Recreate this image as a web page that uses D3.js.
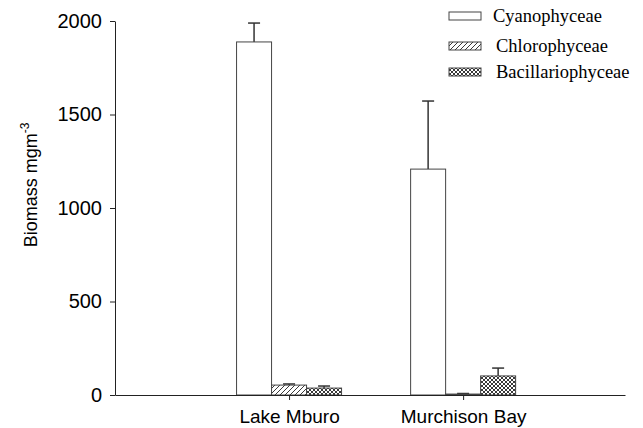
<!DOCTYPE html>
<html><head><meta charset="utf-8">
<script src="https://cdn.jsdelivr.net/npm/d3@7"></script>
<style>body{margin:0;background:#fff}</style>
</head><body>
<svg id="c" width="643" height="428"></svg>
<script>
const categories = ["Lake Mburo", "Murchison Bay"];
const seriesNames = ["Cyanophyceae", "Chlorophyceae", "Bacillariophyceae"];
const cyano = [1888, 1208];
const cyanoErr = [101, 364];
const chloro = [53, 5];
const chloroErr = [6, 3];
const bacil = [37, 102];
const bacilErr = [11, 42];
const yTicks = [0, 500, 1000, 1500, 2000];

const svg = d3.select("#c");
const defs = svg.append("defs");
const p1 = defs.append("pattern").attr("id","diag").attr("patternUnits","userSpaceOnUse").attr("width",5).attr("height",5);
p1.append("rect").attr("width",5).attr("height",5).attr("fill","#fff");
p1.append("path").attr("d","M-1,6 L6,-1 M-1,1 L1,-1 M4,6 L6,4").attr("stroke","#222").attr("stroke-width",0.9);
const p2 = defs.append("pattern").attr("id","cross").attr("patternUnits","userSpaceOnUse").attr("width",4).attr("height",4);
p2.append("rect").attr("width",4).attr("height",4).attr("fill","#fff");
p2.append("path").attr("d","M0,0 L4,4 M4,0 L0,4").attr("stroke","#222").attr("stroke-width",0.9);

const y = d3.scaleLinear().domain([0,2000]).range([395,21]);
const x = d3.scaleLinear().domain([0,2.93]).range([115,625]);
const barW = 35;
const fills = ["#fff","url(#diag)","url(#cross)"];
const vals = [cyano, chloro, bacil];
const errs = [cyanoErr, chloroErr, bacilErr];
const sans = "Arial, Liberation Sans, sans-serif";

// Axes
const ya = svg.append("g").attr("transform","translate(115,0)")
  .call(d3.axisLeft(y).tickValues(yTicks).tickFormat(d3.format("d")).tickSize(5).tickSizeOuter(0).tickPadding(8));
ya.select(".domain").attr("stroke","#222");
ya.selectAll("line").attr("stroke","#222");
ya.selectAll("text").attr("font-family",sans).attr("font-size",20).attr("fill","#000");

// bars
seriesNames.forEach((s, si) => {
  categories.forEach((c, ci) => {
    const cx = x(ci+1);
    const x0 = cx - 1.5*barW + si*barW;
    const v = vals[si][ci], e = errs[si][ci];
    svg.append("line").attr("x1",x0+barW/2).attr("x2",x0+barW/2).attr("y1",y(v)).attr("y2",y(v+e)).attr("stroke","#333").attr("stroke-width",1.5);
    svg.append("line").attr("x1",x0+barW/2-6).attr("x2",x0+barW/2+6).attr("y1",y(v+e)).attr("y2",y(v+e)).attr("stroke","#333").attr("stroke-width",1.5);
    svg.append("rect").attr("x",x0).attr("y",y(v)).attr("width",barW).attr("height",y(0)-y(v))
      .attr("fill",fills[si]).attr("stroke","#444").attr("stroke-width",1);
  });
});

const xa = svg.append("g").attr("transform","translate(0,395)")
  .call(d3.axisBottom(x).tickValues([1,2]).tickFormat((d)=>categories[d-1]).tickSize(5).tickSizeOuter(0));
xa.select(".domain").attr("stroke","#222");
xa.selectAll("line").attr("stroke","#222");
xa.selectAll("text").attr("dy",null).attr("y",28).attr("font-family",sans).attr("font-size",19).attr("fill","#000");

// y label
const yl = svg.append("text").attr("transform","translate(37,185) rotate(-90)").attr("text-anchor","middle")
  .attr("font-family",sans).attr("font-size",18).attr("fill","#000");
yl.append("tspan").text("Biomass mgm");
yl.append("tspan").attr("font-size",12).attr("dy",-8).text("-3");

// legend
const legY = [12, 42, 68];
const legX = [493, 496, 496];
seriesNames.forEach((s, i) => {
  svg.append("rect").attr("x",449).attr("y",legY[i]).attr("width",32).attr("height",8)
    .attr("fill",fills[i]).attr("stroke","#444").attr("stroke-width",1);
  svg.append("text").attr("x",legX[i]).attr("y",legY[i]+10).text(s)
    .attr("font-family","Liberation Serif, Times New Roman, serif").attr("font-size",18.5).attr("fill","#000");
});
</script>
</body></html>
